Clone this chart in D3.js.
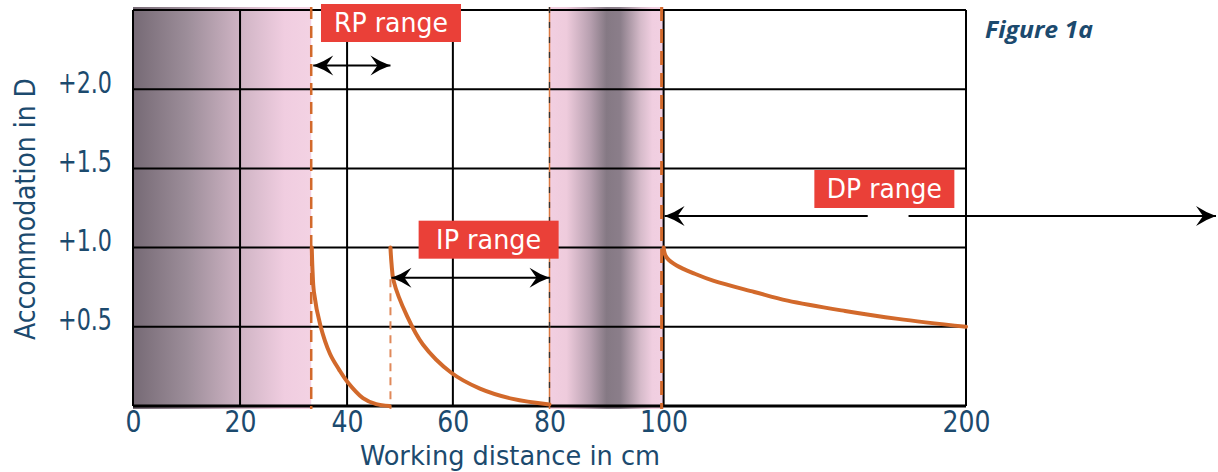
<!DOCTYPE html>
<html>
<head>
<meta charset="utf-8">
<script src="https://cdn.jsdelivr.net/npm/d3@7/dist/d3.min.js"></script>
<style>
  html, body { margin: 0; padding: 0; background: #fff; }
  svg { display: block; }
</style>
</head>
<body>
<svg id="chart" width="1218" height="472"></svg>
<script>
// ---------- data ----------
const xTickValues = [0, 20, 40, 60, 80, 100, 200];          // cm (non-uniform axis)
const yTickValues = [0.5, 1.0, 1.5, 2.0];                   // dioptres
const yMax = 2.5;

// accommodation curves: [working distance cm, accommodation D]
const rpCurve = [[33.4, 1.0], [33.55, 0.85], [33.8, 0.72], [35.0, 0.51], [36.8, 0.33], [38.5, 0.23], [40, 0.155], [43, 0.05], [45.5, 0.012], [48, 0.0]];
const ipCurve = [[48.2, 1.0], [48.4, 0.9], [48.8, 0.79], [51.3, 0.57], [54.3, 0.39], [59.7, 0.21], [65.6, 0.11], [72.4, 0.045], [80, 0.01]];
const dpCurve = [[100, 1.0], [100.4, 0.96], [101.3, 0.93], [104.3, 0.887], [110.3, 0.835], [116.6, 0.79], [130, 0.72], [141, 0.665], [160, 0.6], [177.5, 0.55], [200, 0.5]];

// range limits (cm)
const rpStart = 33.3, ipStart = 48.2, ipEnd = 80, dpStart = 100, axisEnd = 200;
const rangeLabels = ["RP range", "IP range", "DP range"];

// ---------- layout ----------
(function () {
const svg = d3.select("#chart");
const pL = 133, pR = 966, pT = 10, pB = 406;
const W = pR - pL;
// non-uniform (hand drawn) x axis: fraction of width at each tick
const xFrac = [0, 0.1285, 0.257, 0.384, 0.5, 0.637, 1];
const x = d3.scaleLinear().domain(xTickValues).range(xFrac.map(f => pL + f * W));
const y = d3.scaleLinear().domain([0, yMax]).range([pB, pT]);

const textColor = "#1c4a6e";
const orange = "#d2692b";
const red = "#ea4038";
const condensed = "'DejaVu Sans Condensed', 'DejaVu Sans', sans-serif";

const defs = svg.append("defs");
const g1 = defs.append("linearGradient").attr("id", "gLeft").attr("x1", 0).attr("x2", 1).attr("y1", 0).attr("y2", 0);
[[0, "#766a75"], [0.3, "#9c8d99"], [0.6, "#cfb4c4"], [0.85, "#f0cde0"], [1, "#f3d2e3"]]
  .forEach(([o, c]) => g1.append("stop").attr("offset", o).attr("stop-color", c));
const g2 = defs.append("linearGradient").attr("id", "gMid").attr("x1", 0).attr("x2", 1).attr("y1", 0).attr("y2", 0);
[[0, "#f2cfe1"], [0.15, "#eecbdc"], [0.35, "#b9a1b1"], [0.5, "#857984"], [0.62, "#8b7e8a"], [0.8, "#d6bbca"], [0.9, "#f0cee0"], [1, "#f2d0e2"]]
  .forEach(([o, c]) => g2.append("stop").attr("offset", o).attr("stop-color", c));

const marker = defs.append("marker").attr("id", "ah")
  .attr("viewBox", "-22 -11 24 22").attr("refX", 0).attr("refY", 0)
  .attr("markerWidth", 24).attr("markerHeight", 22).attr("markerUnits", "userSpaceOnUse")
  .attr("orient", "auto-start-reverse");
marker.append("path").attr("d", "M-20,-10 Q-10,-3.5 0,0 Q-10,3.5 -20,10 L-13,0 Z").attr("fill", "#000");

// ---------- shaded bands ----------
svg.append("rect").attr("x", x(0)).attr("y", pT - 3).attr("width", x(rpStart) - x(0)).attr("height", pB - pT + 6).attr("fill", "url(#gLeft)");
svg.append("rect").attr("x", x(ipEnd)).attr("y", pT - 3).attr("width", x(dpStart) - x(ipEnd)).attr("height", pB - pT + 6).attr("fill", "url(#gMid)");

// ---------- grid ----------
svg.append("g").selectAll("line").data(yTickValues).join("line")
  .attr("x1", pL).attr("x2", pR).attr("y1", d => y(d)).attr("y2", d => y(d))
  .attr("stroke", "#000").attr("stroke-width", 2);
svg.append("g").selectAll("line").data([20, 40, 60]).join("line")
  .attr("x1", d => x(d)).attr("x2", d => x(d)).attr("y1", pT).attr("y2", pB)
  .attr("stroke", "#000").attr("stroke-width", 2);
svg.append("line").attr("x1", x(dpStart)).attr("x2", x(dpStart)).attr("y1", pT).attr("y2", pB).attr("stroke", "#000").attr("stroke-width", 2);
svg.append("line").attr("x1", pL).attr("x2", pR).attr("y1", pT).attr("y2", pT).attr("stroke", "#000").attr("stroke-width", 2);
svg.append("line").attr("x1", pL).attr("x2", pR).attr("y1", pB).attr("y2", pB).attr("stroke", "#000").attr("stroke-width", 3);
svg.append("line").attr("x1", pL).attr("x2", pL).attr("y1", pT).attr("y2", pB).attr("stroke", "#000").attr("stroke-width", 2);
svg.append("line").attr("x1", pR).attr("x2", pR).attr("y1", pT).attr("y2", pB).attr("stroke", "#000").attr("stroke-width", 2);

// ---------- dashed limit lines ----------
svg.append("line").attr("x1", x(rpStart)).attr("x2", x(rpStart)).attr("y1", pT - 3).attr("y2", pB + 3)
  .attr("stroke", orange).attr("stroke-width", 2.5).attr("stroke-dasharray", "12,7");
svg.append("line").attr("x1", x(ipStart)).attr("x2", x(ipStart)).attr("y1", y(0.8)).attr("y2", pB + 3)
  .attr("stroke", "#e0895a").attr("stroke-width", 2).attr("stroke-dasharray", "8,6");
svg.append("line").attr("x1", x(ipEnd)).attr("x2", x(ipEnd)).attr("y1", pT - 3).attr("y2", pB + 3)
  .attr("stroke", "#d9773f").attr("stroke-width", 1.5);
svg.append("line").attr("x1", x(ipEnd)).attr("x2", x(ipEnd)).attr("y1", pT - 3).attr("y2", pB + 3)
  .attr("stroke", "#333").attr("stroke-width", 1.3).attr("stroke-dasharray", "6,9");
svg.append("line").attr("x1", x(dpStart) - 2).attr("x2", x(dpStart) - 2).attr("y1", pT - 3).attr("y2", pB + 3)
  .attr("stroke", orange).attr("stroke-width", 3).attr("stroke-dasharray", "14,8");

// ---------- curves ----------
const line = d3.line().x(d => x(d[0])).y(d => y(d[1])).curve(d3.curveCatmullRom.alpha(0.5));
svg.append("g").selectAll("path").data([rpCurve, ipCurve, dpCurve]).join("path")
  .attr("d", line).attr("fill", "none").attr("stroke", orange).attr("stroke-width", 4).attr("stroke-linecap", "round");

// ---------- arrows ----------
const arrows = [
  { x1: x(rpStart) + 2, x2: x(ipStart), yv: 2.15 },
  { x1: x(ipStart) + 1, x2: x(ipEnd), yv: 0.81 },
];
svg.append("g").selectAll("line").data(arrows).join("line")
  .attr("x1", d => d.x1).attr("x2", d => d.x2).attr("y1", d => y(d.yv)).attr("y2", d => y(d.yv))
  .attr("stroke", "#000").attr("stroke-width", 2)
  .attr("marker-start", "url(#ah)").attr("marker-end", "url(#ah)");
const dpY = y(1.2);
svg.append("line").attr("x1", x(dpStart) + 1).attr("x2", x(167.5)).attr("y1", dpY).attr("y2", dpY)
  .attr("stroke", "#000").attr("stroke-width", 2).attr("marker-start", "url(#ah)");
svg.append("line").attr("x1", x(181)).attr("x2", 1216).attr("y1", dpY).attr("y2", dpY)
  .attr("stroke", "#000").attr("stroke-width", 2).attr("marker-end", "url(#ah)");

// ---------- range labels ----------
const labelPos = [{ cx: x(48.3), cy: 23, w: 114 }, { cx: x(67.4), cy: y(1.05), w: 105 }, { cx: x(173), cy: y(1.37), w: 115 }];
const lab = svg.append("g").selectAll("g").data(rangeLabels).join("g")
  .attr("transform", (d, i) => `translate(${labelPos[i].cx},${labelPos[i].cy})`);
lab.append("rect").attr("x", -70).attr("y", -19).attr("width", 140).attr("height", 38).attr("fill", red);
lab.append("text").text(d => d).attr("text-anchor", "middle").attr("y", 9)
  .attr("fill", "#fff").attr("font-family", condensed)
  .attr("font-stretch", "condensed").attr("font-size", 27)
  .attr("textLength", (d, i) => labelPos[i].w).attr("lengthAdjust", "spacingAndGlyphs");

// ---------- axes ----------
const xAxis = svg.append("g").attr("transform", `translate(0,${pB})`)
  .call(d3.axisBottom(x).tickValues(xTickValues).tickSize(0).tickPadding(5).tickFormat(d3.format("d")));
xAxis.select(".domain").remove();
xAxis.selectAll("text").attr("font-family", condensed)
  .attr("font-size", 30).attr("fill", textColor)
  .attr("textLength", d => String(d).length * 16).attr("lengthAdjust", "spacingAndGlyphs");

const yAxis = svg.append("g").attr("transform", `translate(${pL},0)`)
  .call(d3.axisLeft(y).tickValues(yTickValues).tickSize(0).tickPadding(21).tickFormat(d3.format("+.1f")));
yAxis.select(".domain").remove();
yAxis.selectAll("text").attr("font-family", condensed)
  .attr("font-size", 30).attr("fill", textColor).attr("dy", 3)
  .attr("textLength", 54).attr("lengthAdjust", "spacingAndGlyphs");

svg.append("text").text("Working distance in cm").attr("x", 510).attr("y", 465)
  .attr("text-anchor", "middle").attr("fill", textColor)
  .attr("font-family", condensed).attr("font-stretch", "condensed").attr("font-size", 27)
  .attr("textLength", 300).attr("lengthAdjust", "spacingAndGlyphs");
svg.append("text").text("Accommodation in D").attr("transform", "translate(35,209) rotate(-90)")
  .attr("text-anchor", "middle").attr("fill", textColor)
  .attr("font-family", condensed).attr("font-stretch", "condensed").attr("font-size", 28)
  .attr("textLength", 262).attr("lengthAdjust", "spacingAndGlyphs");

svg.append("text").text("Figure 1a").attr("x", 985).attr("y", 38)
  .attr("fill", textColor).attr("font-family", "'Open Sans', sans-serif")
  .attr("font-weight", "bold").attr("font-style", "italic").attr("font-size", 24)
  .attr("textLength", 108).attr("lengthAdjust", "spacingAndGlyphs");
})();
</script>
</body>
</html>
